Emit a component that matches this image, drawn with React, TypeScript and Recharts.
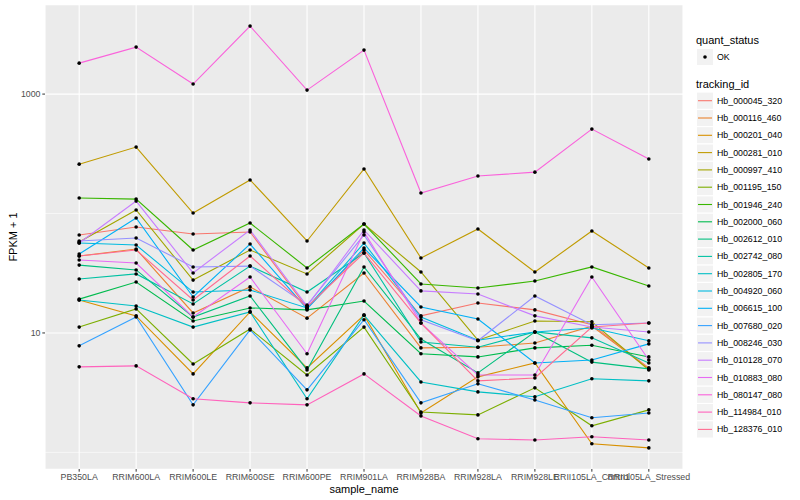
import React from 'react';
import { LineChart, Line, XAxis, YAxis, CartesianGrid } from 'recharts';

const samples = [
  'PB350LA', 'RRIM600LA', 'RRIM600LE', 'RRIM600SE', 'RRIM600PE', 'RRIM901LA',
  'RRIM928BA', 'RRIM928LA', 'RRIM928LE', 'RRII105LA_Control', 'RRII105LA_Stressed',
];

const trackingIds = [
  'Hb_000045_320', 'Hb_000116_460', 'Hb_000201_040', 'Hb_000281_010', 'Hb_000997_410',
  'Hb_001195_150', 'Hb_001946_240', 'Hb_002000_060', 'Hb_002612_010', 'Hb_002742_080',
  'Hb_002805_170', 'Hb_004920_060', 'Hb_006615_100', 'Hb_007680_020', 'Hb_008246_030',
  'Hb_010128_070', 'Hb_010883_080', 'Hb_080147_080', 'Hb_114984_010', 'Hb_128376_010',
];

// ggplot2 default hue palette, 20 levels
const trackingColors = [
  '#F8766D', '#EA8331', '#D89000', '#C09B00', '#A3A500',
  '#7CAE00', '#39B600', '#00BB4E', '#00BF7D', '#00C1A3',
  '#00BFC4', '#00BAE0', '#00B0F6', '#35A2FF', '#9590FF',
  '#C77CFF', '#E76BF3', '#FA62DB', '#FF62BC', '#FF6C91',
];

// FPKM + 1, one value per sample
const hb000045 = [66.1, 77.1, 67.4, 70.0, 16.2, 49.5, 13.9, 17.8, 15.6, 11.7, 5.1];
const hb000116 = [44.1, 50.4, 14.7, 24.3, 13.3, 31.8, 7.5, 7.6, 8.25, 11.4, 5.0];
const hb000201 = [18.9, 13.9, 4.54, 15.0, 5.1, 14.1, 2.14, 4.29, 5.61, 1.18, 1.09];
const hb000281 = [259, 360, 101, 191, 58.9, 236, 42.4, 74.2, 32.4, 71.4, 35];
const hb000997 = [57.7, 107, 27.7, 49.5, 31.2, 81.7, 32.4, 8.7, 12.6, 12.4, 4.9];
const hb001195 = [11.2, 15.9, 5.5, 10.8, 4.45, 11.2, 2.18, 2.06, 3.47, 1.67, 2.27];
const hb001946 = [135, 132, 49.5, 83.3, 35, 81.7, 25.7, 23.8, 27.2, 35.7, 24.7];
const hb002000 = [19.2, 26.7, 12.6, 16.2, 15.6, 18.5, 6.7, 6.3, 7.5, 7.9, 6.3];
const hb002612 = [37.0, 33.7, 13.6, 20.4, 4.9, 35.7, 8.9, 4.63, 10.2, 5.7, 5.0];
const hb002742 = [28.3, 31.2, 17.5, 36.3, 22.0, 46.7, 8.4, 7.6, 10.2, 9.1, 5.6];
const hb002805 = [18.9, 16.8, 11.2, 15.0, 2.81, 14.1, 3.89, 3.21, 2.92, 4.13, 3.97];
const hb004920 = [56.6, 54.5, 22.0, 22.9, 16.2, 56.6, 13.6, 8.7, 10.2, 11.0, 8.6];
const hb006615 = [45.8, 91.7, 20.0, 55.5, 15.9, 51.4, 16.5, 13.1, 5.6, 5.94, 8.1];
const hb007680 = [7.8, 13.6, 2.5, 10.6, 3.34, 12.9, 2.6, 3.75, 2.75, 1.95, 2.14];
const hb008246 = [58.9, 62.4, 35.7, 36.3, 17.1, 66.1, 12.9, 8.6, 20.4, 11.7, 12.1];
const hb010128 = [56.6, 127, 31.8, 72.8, 16.8, 72.8, 22.5, 21.2, 13.9, 11.2, 10.2];
const hb010883 = [40.8, 38.5, 13.6, 29.4, 6.7, 70.0, 12.1, 4.45, 4.45, 29.4, 5.94];
const hb080147 = [1816, 2473, 1213, 3707, 1080, 2335, 148.5, 206, 222, 509, 286];
const hb114984 = [5.2, 5.3, 2.81, 2.6, 2.5, 4.54, 2.02, 1.3, 1.27, 1.35, 1.27];
const hb128376 = [44.1, 49.5, 18.9, 44.1, 16.5, 46.7, 12.1, 3.97, 4.2, 11.2, 12.1];

const seriesValues = [
  hb000045, hb000116, hb000201, hb000281, hb000997, hb001195, hb001946, hb002000,
  hb002612, hb002742, hb002805, hb004920, hb006615, hb007680, hb008246, hb010128,
  hb010883, hb080147, hb114984, hb128376,
];

const yTicks = [1, 10, 100, 1000];
const yLabelled = [10, 1000];
const yDomain = [0.726, 5570];

const data = samples.map((name, idx) => {
  const row: Record<string, number | string> = { idx, name };
  trackingIds.forEach((id, s) => {
    row[id] = seriesValues[s][idx];
  });
  return row;
});

const FONT = '"Liberation Sans", Arial, Helvetica, sans-serif';

const YTick = (props: any) => {
  const { x, y, payload } = props;
  if (!yLabelled.includes(payload.value)) return <g />;
  return (
    <g>
      <line x1={x - 2.7} x2={x} y1={y} y2={y} stroke="#333333" strokeWidth={1} />
      <text x={x - 4.5} y={y} textAnchor="end" dominantBaseline="central" fontSize={8.8} fill="#4D4D4D" fontFamily={FONT}>
        {payload.value}
      </text>
    </g>
  );
};

const gridLine = (p: any) => (
  <line
    key={`h-${p.index}`}
    x1={p.x1}
    x2={p.x2}
    y1={p.y1}
    y2={p.y2}
    stroke="#FFFFFF"
    strokeWidth={yLabelled.includes(yTicks[p.index]) ? 1.1 : 0.55}
  />
);

function LegendBox() {
  const itemTop = 100.7;
  const step = 17.3;
  return (
    <svg width={110} height={500} style={{ position: 'absolute', left: 690, top: 0 }}>
      <g fontFamily={FONT}>
        <text x={6} y={40} dominantBaseline="central" fontSize={11} fill="#000">quant_status</text>
        <rect x={6.5} y={48.5} width={17} height={17} fill="#F2F2F2" stroke="#FFFFFF" />
        <circle cx={15} cy={57} r={1.8} fill="#000" />
        <text x={27} y={57} dominantBaseline="central" fontSize={8.8} fill="#000">OK</text>
        <text x={6} y={84} dominantBaseline="central" fontSize={11} fill="#000">tracking_id</text>
        {trackingIds.map((id, i) => {
          const cy = itemTop + i * step;
          return (
            <g key={id}>
              <rect x={6.5} y={cy - 8.6} width={17} height={17.2} fill="#F2F2F2" stroke="#FFFFFF" />
              <line x1={8} x2={22} y1={cy} y2={cy} stroke={trackingColors[i]} strokeWidth={1.1} />
              <text x={27} y={cy} dominantBaseline="central" fontSize={8.8} fill="#000">{id}</text>
            </g>
          );
        })}
      </g>
    </svg>
  );
}

export default function App() {
  return (
    <div style={{ position: 'absolute', left: 0, top: 0, width: 800, height: 500, background: '#FFFFFF' }}>
      <LineChart width={800} height={500} data={data} margin={{ top: 5, right: 117, left: 0, bottom: 0 }}>
        <CartesianGrid fill="#EBEBEB" stroke="#FFFFFF" strokeWidth={1.1} horizontal={gridLine} vertical />
        <XAxis
          dataKey="idx"
          type="number"
          domain={[-0.6, 10.6]}
          ticks={samples.map((_, i) => i)}
          interval={0}
          allowDataOverflow
          tickFormatter={(v) => samples[v] ?? ''}
          height={31}
          axisLine={false}
          tickSize={2.7}
          tickMargin={2}
          tickLine={{ stroke: '#333333' }}
          tick={{ fontSize: 8.8, fill: '#4D4D4D', fontFamily: FONT }}
          label={{
            content: (p: any) => {
              const vb = p.viewBox;
              return (
                <text x={vb.x + vb.width / 2} y={489} textAnchor="middle" dominantBaseline="central" fontSize={11} fill="#000" fontFamily={FONT}>
                  sample_name
                </text>
              );
            },
          }}
        />
        <YAxis
          scale="log"
          type="number"
          domain={yDomain}
          allowDataOverflow
          ticks={yTicks}
          width={45}
          axisLine={false}
          tickLine={false}
          tickSize={0}
          tickMargin={0}
          tick={<YTick />}
          label={{
            content: (p: any) => {
              const vb = p.viewBox;
              const cy = vb.y + vb.height / 2;
              return (
                <text x={13} y={cy} transform={`rotate(-90, 13, ${cy})`} textAnchor="middle" dominantBaseline="central" fontSize={11} fill="#000" fontFamily={FONT}>
                  FPKM + 1
                </text>
              );
            },
          }}
        />
        {trackingIds.map((id, i) => (
          <Line
            key={`line-${id}`}
            type="linear"
            dataKey={id}
            stroke={trackingColors[i]}
            strokeWidth={1.1}
            dot={false}
            activeDot={false}
            isAnimationActive={false}
          />
        ))}
        {trackingIds.map((id) => (
          <Line
            key={`pts-${id}`}
            type="linear"
            dataKey={id}
            stroke="none"
            strokeWidth={0}
            dot={{ r: 1.8, fill: '#000000', stroke: 'none' }}
            activeDot={false}
            legendType="none"
            isAnimationActive={false}
          />
        ))}
      </LineChart>
      <LegendBox />
    </div>
  );
}
